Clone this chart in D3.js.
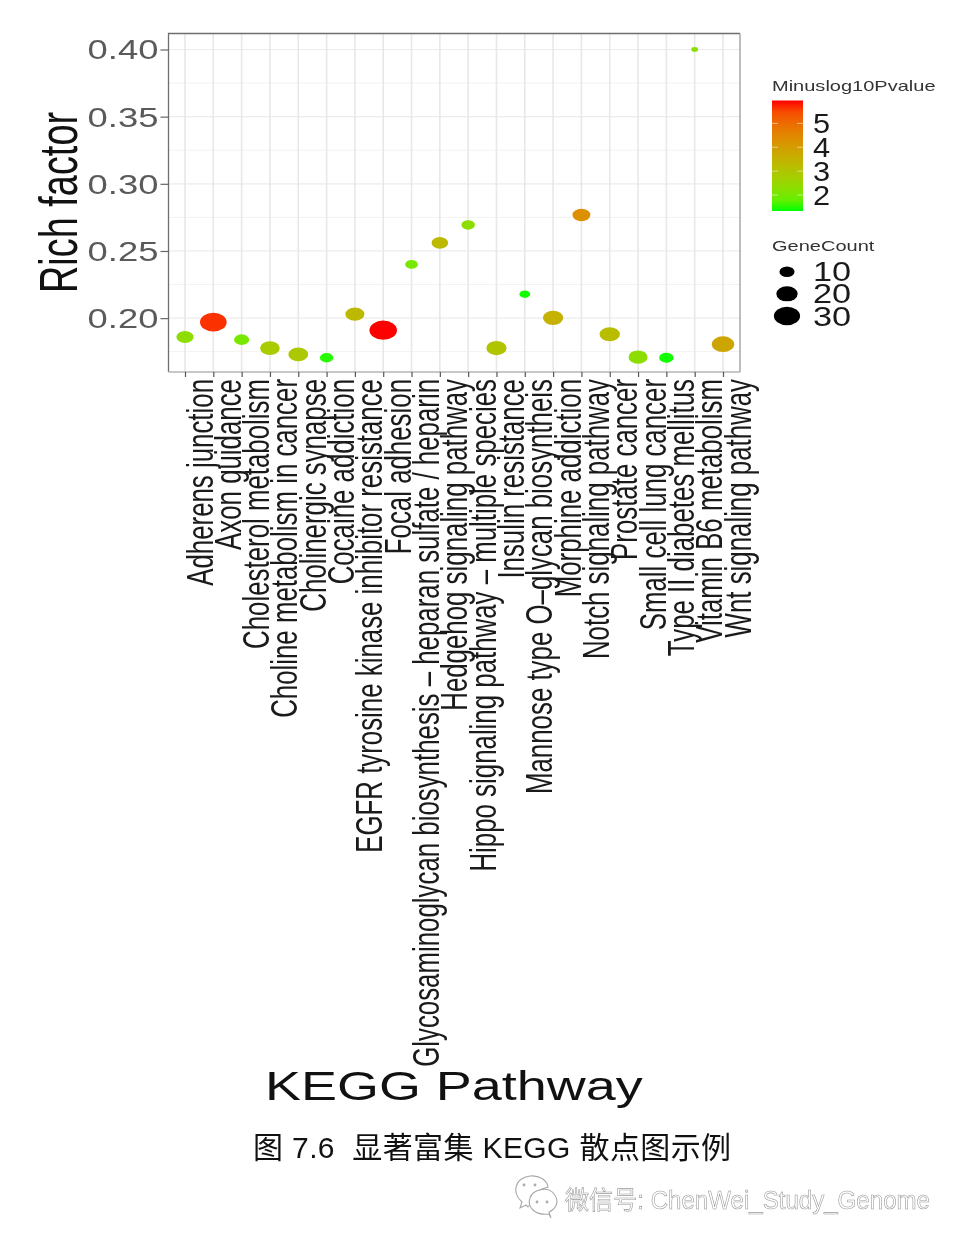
<!DOCTYPE html>
<html>
<head>
<meta charset="utf-8">
<script src="https://cdnjs.cloudflare.com/ajax/libs/d3/7.8.5/d3.min.js"></script>
<style>
  html, body { margin: 0; padding: 0; background: #fff; }
  svg { display: block; font-family: "Liberation Sans", sans-serif; }
  .soft { filter: blur(0.55px); }
</style>
</head>
<body>
<div id="chart"></div>
<script>
// Values
const pathways = ["Adherens junction", "Axon guidance", "Cholesterol metabolism", "Choline metabolism in cancer",
  "Cholinergic synapse", "Cocaine addiction", "EGFR tyrosine kinase inhibitor resistance", "Focal adhesion",
  "Glycosaminoglycan biosynthesis \u2013 heparan sulfate / heparin", "Hedgehog signaling pathway",
  "Hippo signaling pathway \u2013 multiple species", "Insulin resistance", "Mannose type O\u2013glycan biosyntheis",
  "Morphine addiction", "Notch signaling pathway", "Prostate cancer", "Small cell lung cancer",
  "Type II diabetes mellitus", "Vitamin B6 metabolism", "Wnt signaling pathway"];
const richFactor = [0.186, 0.197, 0.184, 0.1777, 0.173, 0.1705, 0.203, 0.191, 0.24, 0.256,
  0.2694, 0.1777, 0.2178, 0.2002, 0.2768, 0.188, 0.171, 0.1705, 0.4, 0.1806];
const geneCount = [13, 31, 10, 17, 17, 8, 16, 33, 7, 12, 8, 18, 5, 18, 14, 18, 16, 9, 2, 22];
const minusLog10P = [2.3, 5.75, 2.0, 2.8, 2.9, 1.4, 3.3, 5.96, 2.0, 3.3, 2.3, 3.0, 1.35, 3.5, 4.3, 3.2, 2.3, 1.35, 2.3, 3.8];

const yMajor = [0.20, 0.25, 0.30, 0.35, 0.40];
const yMinor = [0.175, 0.225, 0.275, 0.325, 0.375];
const colorTicks = [5, 4, 3, 2];
const sizeTicks = [10, 20, 30];
const pValueRange = [1.33, 5.96];

const width = 960, height = 1245;
// the source image is stretched sideways, so text and dots are too
const stretch = 1.43;

const panel = { left: 168.5, right: 740, top: 33.5, bottom: 372 };

const svg = d3.select("#chart").append("svg")
  .attr("width", width)
  .attr("height", height);

const x = d3.scalePoint().domain(pathways).range([185, 723]);
const y = d3.scaleLinear().domain([0.1599, 0.4119]).range([panel.bottom, panel.top]);
const radius = d3.scaleSqrt().domain([0, 30]).range([0, 13.1]);
const color = d3.scaleLinear().domain(pValueRange).range(["#00ff00", "#ff0000"]).interpolate(d3.interpolateLab);

const plot = svg.append("g").attr("class", "soft");

// Grid
plot.append("g").selectAll("line")
  .data(yMinor)
  .join("line")
  .attr("x1", panel.left).attr("x2", panel.right)
  .attr("y1", d => y(d)).attr("y2", d => y(d))
  .attr("stroke", "#f2f2f2").attr("stroke-width", 1);
plot.append("g").selectAll("line")
  .data(yMajor)
  .join("line")
  .attr("x1", panel.left).attr("x2", panel.right)
  .attr("y1", d => y(d)).attr("y2", d => y(d))
  .attr("stroke", "#ececec").attr("stroke-width", 1.2);
plot.append("g").selectAll("line")
  .data(pathways)
  .join("line")
  .attr("x1", d => x(d)).attr("x2", d => x(d))
  .attr("y1", panel.top).attr("y2", panel.bottom)
  .attr("stroke", "#e8e8e8").attr("stroke-width", 1.6);

// Dots
plot.append("g").selectAll("ellipse")
  .data(pathways)
  .join("ellipse")
  .attr("cx", d => x(d))
  .attr("cy", (d, i) => y(richFactor[i]))
  .attr("rx", (d, i) => radius(geneCount[i]))
  .attr("ry", (d, i) => radius(geneCount[i]) / stretch)
  .attr("fill", (d, i) => color(minusLog10P[i]));

// Panel border
plot.append("path")
  .attr("d", `M${panel.left},${panel.bottom}V${panel.top}H${panel.right}`)
  .attr("fill", "none").attr("stroke", "#6e6e6e").attr("stroke-width", 1.3);
plot.append("line")
  .attr("x1", panel.right).attr("x2", panel.right)
  .attr("y1", panel.top).attr("y2", panel.bottom)
  .attr("stroke", "#9a9a9a").attr("stroke-width", 1.3);
plot.append("line")
  .attr("x1", panel.left).attr("x2", panel.right)
  .attr("y1", panel.bottom).attr("y2", panel.bottom)
  .attr("stroke", "#b5b5b5").attr("stroke-width", 1.3);

// Y axis
const yAxis = plot.append("g")
  .attr("transform", `translate(${panel.left},0)`)
  .call(d3.axisLeft(y).tickValues(yMajor).tickFormat(d3.format(".2f")).tickSize(8));
yAxis.select(".domain").remove();
yAxis.selectAll("line").attr("stroke", "#666").attr("stroke-width", 1.2);
yAxis.selectAll("text")
  .attr("x", 0).attr("y", 0).attr("dy", null)
  .attr("transform", "translate(-10,9.5) scale(1.33,1)")
  .style("font-size", "27.4px")
  .style("fill", "#5a5a5a");

// X axis
const xAxis = plot.append("g")
  .attr("transform", `translate(0,${panel.bottom})`)
  .call(d3.axisBottom(x).tickSize(5));
xAxis.select(".domain").remove();
xAxis.selectAll("line").attr("stroke", "#555").attr("stroke-width", 1.2);
xAxis.selectAll("text")
  .attr("x", 0).attr("y", 0).attr("dy", null)
  .attr("text-anchor", "end")
  .attr("transform", `translate(27,7) scale(${stretch},1) rotate(-90)`)
  .style("font-size", "25.85px")
  .style("fill", "#1a1a1a");

// Axis titles
plot.append("text")
  .attr("transform", `translate(76.5,293) scale(${stretch},1) rotate(-90)`)
  .style("font-size", "37.9px")
  .style("fill", "#111")
  .text("Rich factor");

plot.append("text")
  .attr("transform", "translate(265,1100) scale(1.3,1)")
  .style("font-size", "41.5px")
  .style("fill", "#111")
  .text("KEGG Pathway");

// Colour legend
const barY = d3.scaleLinear().domain(pValueRange).range([211, 100.5]);
const legendX = 772, barW = 31;

const gradient = svg.append("defs").append("linearGradient")
  .attr("id", "pvalue-bar")
  .attr("x1", 0).attr("x2", 0).attr("y1", 1).attr("y2", 0);
gradient.selectAll("stop")
  .data(d3.range(0, 1.001, 0.1))
  .join("stop")
  .attr("offset", d => d)
  .attr("stop-color", d => color(pValueRange[0] + d * (pValueRange[1] - pValueRange[0])));

const legend = svg.append("g").attr("class", "soft");

function legendText(tx, ty, size, sx, fill, label) {
  legend.append("text")
    .attr("transform", `translate(${tx},${ty}) scale(${sx},1)`)
    .style("font-size", size + "px")
    .style("fill", fill)
    .text(label);
}

legendText(legendX, 91, 14, stretch, "#333", "Minuslog10Pvalue");

legend.append("rect")
  .attr("x", legendX).attr("y", barY(pValueRange[1]))
  .attr("width", barW).attr("height", barY(pValueRange[0]) - barY(pValueRange[1]))
  .attr("fill", "url(#pvalue-bar)");

colorTicks.forEach(d => {
  [[legendX, legendX + 6], [legendX + barW - 6, legendX + barW]].forEach(([a, b]) => {
    legend.append("line")
      .attr("x1", a).attr("x2", b)
      .attr("y1", barY(d)).attr("y2", barY(d))
      .attr("stroke", "#fff").attr("stroke-opacity", 0.5);
  });
  legendText(813, barY(d) + 9.5, 27, 1.14, "#1a1a1a", d);
});

// Size legend
legendText(legendX, 251, 14, stretch, "#333", "GeneCount");
const sizeY = d3.scalePoint().domain(sizeTicks).range([271.7, 316]);
sizeTicks.forEach(d => {
  legend.append("ellipse")
    .attr("cx", 787).attr("cy", sizeY(d))
    .attr("rx", radius(d)).attr("ry", radius(d) / stretch)
    .attr("fill", "#000");
  legendText(813, sizeY(d) + 9.5, 27, 1.27, "#1a1a1a", d);
});

// Caption under the figure
svg.append("text")
  .attr("transform", "translate(253,1158)")
  .attr("xml:space", "preserve")
  .style("white-space", "pre")
  .style("font-family", '"Liberation Sans", "Noto Sans CJK SC", sans-serif')
  .style("font-size", "30px")
  .style("fill", "#111")
  .attr("textLength", 478)
  .text("图 7.6  显著富集 KEGG 散点图示例");

// WeChat watermark
const mark = svg.append("g").attr("class", "soft")
  .attr("transform", "translate(-2,0)")
  .attr("fill", "#fff").attr("stroke", "#a8a8a8").attr("stroke-width", 1.1);
mark.append("path").attr("d", "M522,1208 l2,-6 c-11,-10 -7,-24 8,-26 c9,-1 17,4 18,11 l-6,2 l-14,18 l-2,-2 z");
mark.append("path").attr("d", "M553,1218 l-2,-4 c-15,2 -22,-8 -19,-16 c3,-9 18,-12 24,-4 c6,7 2,15 -5,18 z");
[[526, 1185], [537, 1185], [539, 1202], [549, 1202]].forEach(([cx, cy]) => {
  mark.append("circle").attr("cx", cx).attr("cy", cy).attr("r", 0.9);
});

svg.append("text")
  .attr("class", "soft")
  .attr("transform", "translate(565,1209)")
  .attr("textLength", 365)
  .attr("lengthAdjust", "spacingAndGlyphs")
  .style("font-family", '"Liberation Sans", "Noto Sans CJK SC", sans-serif')
  .style("font-size", "25px")
  .style("fill", "#fff")
  .style("stroke", "#9a9a9a")
  .style("stroke-width", 0.6)
  .text("微信号: ChenWei_Study_Genome");
</script>
</body>
</html>
